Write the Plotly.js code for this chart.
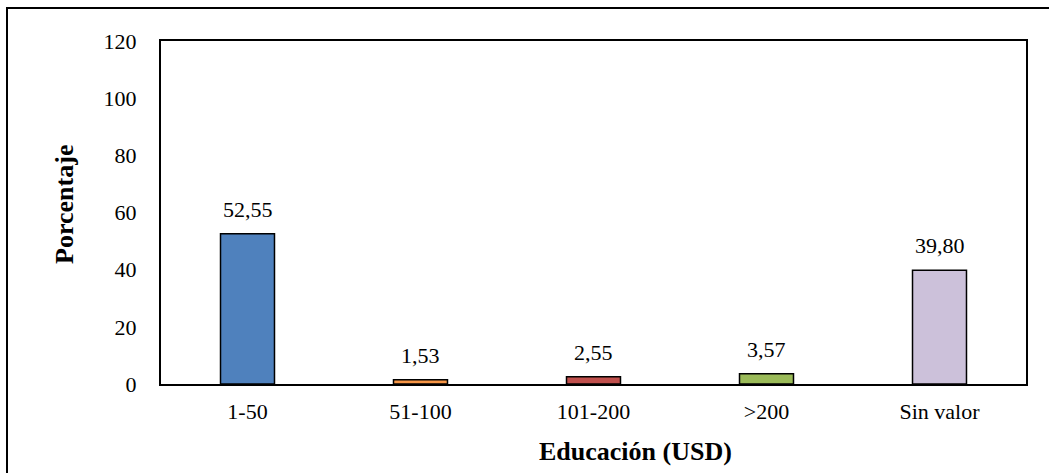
<!DOCTYPE html>
<html>
<head>
<meta charset="utf-8">
<script src="https://cdn.plot.ly/plotly-3.0.1.min.js"></script>
<style>
html,body{margin:0;padding:0;background:#fff;overflow:hidden;}
#chart{width:1049px;height:473px;position:absolute;left:0;top:0;}
#frame{position:absolute;left:6px;top:7px;width:1100px;height:600px;border-top:2px solid #000;border-left:2px solid #000;pointer-events:none;}
</style>
</head>
<body>
<div id="chart"></div>
<div id="frame"></div>
<script>
const categories = ["1-50", "51-100", "101-200", ">200", "Sin valor"];
const values = [52.55, 1.53, 2.55, 3.57, 39.80];
const barColors = ["#4F81BD", "#F79646", "#C0504D", "#9BBB59", "#CCC1DA"];
const yTicks = [0, 20, 40, 60, 80, 100, 120];
const xTitle = "Educación (USD)";
const yTitle = "Porcentaje";

const font = "'Liberation Serif', 'Times New Roman', serif";

const trace = {
  type: "bar",
  x: categories,
  y: values,
  marker: {color: barColors, line: {color: "#000", width: 1.5}},
  hoverinfo: "none"
};

const labelAnns = categories.map((c, i) => ({
  x: c, y: values[i], xref: "x", yref: "y",
  text: values[i].toFixed(2).replace(".", ","),
  showarrow: false, yanchor: "bottom", yshift: 10,
  font: {family: font, size: 22, color: "#000"}
}));

const layout = {
  width: 1049, height: 473,
  margin: {l: 161, r: 23, t: 41, b: 89},
  paper_bgcolor: "#fff", plot_bgcolor: "#fff",
  showlegend: false,
  bargap: 0.688,
  font: {family: font, size: 22, color: "#000"},
  xaxis: {
    type: "category",
    showline: true, linecolor: "#000", linewidth: 2, mirror: true,
    showgrid: false, zeroline: false,
    ticks: "", ticklabelstandoff: 7,
    tickfont: {family: font, size: 22, color: "#000"}
  },
  yaxis: {
    range: [0, 120], tickvals: yTicks, ticktext: yTicks.map(String),
    showline: true, linecolor: "#000", linewidth: 2, mirror: true,
    showgrid: false, zeroline: false,
    ticks: "", ticklabelstandoff: 18,
    tickfont: {family: font, size: 22, color: "#000"}
  },
  annotations: labelAnns.concat([
    {text: "<b>" + xTitle + "</b>", xref: "paper", yref: "paper",
     x: 0.549, y: -0.198, xanchor: "center", yanchor: "middle", showarrow: false,
     font: {family: font, size: 26, color: "#000"}},
    {text: "<b>" + yTitle + "</b>", xref: "paper", yref: "paper",
     x: -0.111, y: 0.525, xanchor: "center", yanchor: "middle", showarrow: false,
     textangle: -90, font: {family: font, size: 26, color: "#000"}}
  ])
};

Plotly.newPlot("chart", [trace], layout, {staticPlot: true, displayModeBar: false});
</script>
</body>
</html>
